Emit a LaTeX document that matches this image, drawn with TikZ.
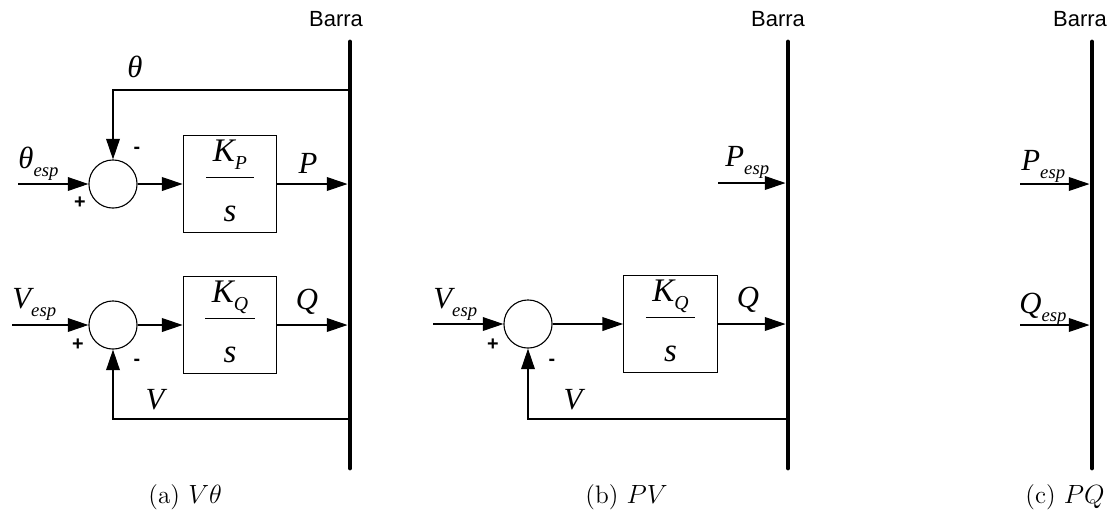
\documentclass[tikz,border=0pt]{standalone}
\usepackage{fontspec}
\usepackage{tikz}
\usetikzlibrary{arrows.meta,positioning,calc}
\newfontfamily\tms{Liberation Serif}
\newfontfamily\arl{Liberation Sans}
\newcommand\lsub[1]{\raisebox{-4pt}{\fontsize{8.5}{8.5}\selectfont #1}}
\newcommand\ksub[1]{\raisebox{-3.6pt}{\fontsize{9}{9}\selectfont #1}}
\newcommand\kfrac[1]{\begin{tabular}{@{\hspace{3pt}}c@{\hspace{3pt}}}K\ksub{#1}\\[2pt]\hline\rule{0pt}{20pt}s\end{tabular}}
\tikzset{
  bus/.style={line width=2.2pt,line cap=round},
  sumnode/.style={circle,draw,line width=0.5pt,minimum size=0.77cm,inner sep=0pt},
  gainbox/.style={draw,line width=0.5pt,minimum width=1.5cm,minimum height=1.5cm,inner sep=0pt,font=\tms\itshape\fontsize{15}{17}\selectfont},
  sig/.style={-{Triangle[length=3.3mm,width=2.2mm]},line width=0.5pt},
  var/.style={font=\tms\itshape\fontsize{14}{16}\selectfont,inner sep=0pt},
  sgn/.style={font=\arl\bfseries\fontsize{9}{9}\selectfont,inner sep=0pt},
  busname/.style={font=\arl\fontsize{10}{10}\selectfont,inner sep=0pt},
  subcap/.style={font=\fontsize{11.5}{14}\selectfont,inner sep=0pt},
}
\begin{document}
\begin{tikzpicture}[x=0.016cm,y=-0.016cm]
  \useasboundingbox (0,0) rectangle (1109,527);
  % (a) V-theta bus
  \coordinate (aTop) at (350,42);
  \coordinate (aBot) at (350,468);
  \draw[bus] (aTop) -- (aBot);
  \node[busname] (aBus) at (336,19) {Barra};
  \node[sumnode] (aS1) at (113,184) {};
  \node[sumnode] (aS2) at (113,325) {};
  \node[gainbox] (aKP) at (230,184) {\kfrac{P}};
  \node[gainbox] (aKQ) at (230,325) {\kfrac{Q}};
  \coordinate (aIn1) at (18,184);
  \coordinate (aIn2) at (12,325);
  \coordinate (aP) at (347.5,184);
  \coordinate (aQ) at (347.5,325);
  \coordinate (aTh) at (350,90);
  \coordinate (aV) at (350,419);
  \draw[sig] (aIn1) -- (aS1);
  \draw[sig] (aS1) -- (aKP);
  \draw[sig] (aKP) -- (aP);
  \draw[sig] (aIn2) -- (aS2);
  \draw[sig] (aS2) -- (aKQ);
  \draw[sig] (aKQ) -- (aQ);
  \draw[sig] (aTh) -| (aS1);
  \draw[sig] (aV) -| (aS2);
  \node[var,anchor=base west] (aThEsp) at (18,168) {θ\lsub{esp}};
  \node[var,anchor=base west] (aVEsp) at (12,308) {V\lsub{esp}};
  \node[var] (aThL) at (135,67) {θ};
  \node[var] (aPL) at (308,163) {P};
  \node[var] (aQL) at (307,302) {Q};
  \node[var] (aVL) at (155,400) {V};
  \node[sgn] (aPl1) at (80,203) {+};
  \node[sgn] (aMi1) at (137,150) {-};
  \node[sgn] (aPl2) at (78,345) {+};
  \node[sgn] (aMi2) at (137,362) {-};
  \node[subcap,anchor=west] (capA) at (148,497) {(a) $V\theta$};
  % (b) PV bus
  \coordinate (bTop) at (788,42);
  \coordinate (bBot) at (788,468);
  \draw[bus] (bTop) -- (bBot);
  \node[busname] (bBus) at (778,19) {Barra};
  \node[sumnode] (bS) at (528,324) {};
  \node[gainbox] (bKQ) at (670.5,324) {\kfrac{Q}};
  \coordinate (bIn) at (433,324);
  \coordinate (bPin) at (718,183);
  \coordinate (bP) at (785.5,183);
  \coordinate (bQ) at (785.5,324);
  \coordinate (bV) at (788,419);
  \draw[sig] (bPin) -- (bP);
  \draw[sig] (bIn) -- (bS);
  \draw[sig] (bS) -- (bKQ);
  \draw[sig] (bKQ) -- (bQ);
  \draw[sig] (bV) -| (bS);
  \node[var,anchor=base west] (bPEsp) at (725,166) {P\lsub{esp}};
  \node[var,anchor=base west] (bVEsp) at (433,308) {V\lsub{esp}};
  \node[var] (bQL) at (748,300) {Q};
  \node[var] (bVL) at (573,400) {V};
  \node[sgn] (bPl) at (493,345) {+};
  \node[sgn] (bMi) at (552,362) {-};
  \node[subcap,anchor=west] (capB) at (585,497) {(b) $PV$};
  % (c) PQ bus
  \coordinate (cTop) at (1092,42);
  \coordinate (cBot) at (1092,468);
  \draw[bus] (cTop) -- (cBot);
  \node[busname] (cBus) at (1080,19) {Barra};
  \coordinate (cPin) at (1020,184);
  \coordinate (cQin) at (1020,325);
  \coordinate (cP) at (1089.5,184);
  \coordinate (cQ) at (1089.5,325);
  \draw[sig] (cPin) -- (cP);
  \draw[sig] (cQin) -- (cQ);
  \node[var,anchor=base west] (cPEsp) at (1021,170) {P\lsub{esp}};
  \node[var,anchor=base west] (cQEsp) at (1019,313) {Q\lsub{esp}};
  \node[subcap,anchor=east] (capC) at (1105,497) {(c) $PQ$};
\end{tikzpicture}
\end{document}
